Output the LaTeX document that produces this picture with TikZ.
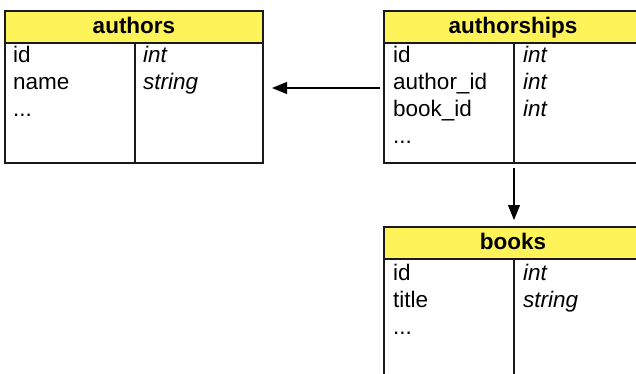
\documentclass[tikz,border=0pt]{standalone}
\usepackage{fontspec}
\setmainfont{Liberation Sans}
\usepackage{xcolor}
\definecolor{lineDark}{HTML}{1A1A1A}
\definecolor{headYellow}{HTML}{FFF35A}
\usetikzlibrary{positioning,calc,arrows.meta}
\tikzset{%
  tableHead/.style={%
    rectangle,
    draw=lineDark,
    line width=1.2pt,
    fill=headYellow,
    minimum width=258pt,
    minimum height=32pt,
    text height=16pt,
    text depth=3pt,
    outer sep=0pt,
    font=\fontsize{22.5}{27}\selectfont\bfseries
  },
  tableBody/.style={%
    rectangle,
    draw=lineDark,
    line width=1.2pt,
    fill=white,
    minimum width=258pt,
    minimum height=120pt,
    outer sep=0pt
  },
  fieldText/.style={%
    anchor=base west,
    inner sep=0pt,
    text width=120pt,
    align=left,
    font=\fontsize{22.5}{27}\selectfont
  },
  typeText/.style={%
    fieldText,
    font=\fontsize{22.5}{27}\selectfont\itshape
  },
  splitLine/.style={%
    draw=lineDark,
    line width=1.2pt
  },
  linkArrow/.style={%
    -{Triangle[length=15pt,width=12pt]},
    line width=1.2pt,
    color=black
  }
}
\begin{document}
\begin{tikzpicture}[x=1pt,y=-1pt]
  \useasboundingbox (0,0) rectangle (636,374);
  \clip (0,0) rectangle (636,374);

  % tables
  \node[tableHead] (authorsHead) at (134,27) {authors};
  \node[tableBody, below=0pt of authorsHead] (authorsBody) {};
  \node[tableHead] (shipsHead) at (513,27) {authorships};
  \node[tableBody, below=0pt of shipsHead] (shipsBody) {};
  \node[tableHead] (booksHead) at (513,243) {books};
  \node[tableBody, below=0pt of booksHead] (booksBody) {};

  % column splits
  \coordinate (authorsSplit) at ([xshift=130pt]authorsHead.south west);
  \coordinate (shipsSplit) at ([xshift=130pt]shipsHead.south west);
  \coordinate (booksSplit) at ([xshift=130pt]booksHead.south west);
  \draw[splitLine] (authorsSplit) -- (authorsSplit |- authorsBody.south);
  \draw[splitLine] (shipsSplit) -- (shipsSplit |- shipsBody.south);
  \draw[splitLine] (booksSplit) -- (booksSplit |- booksBody.south);

  % fields
  \node[fieldText] (authorsFields) at ([shift={(8pt,-20pt)}]authorsHead.south west) {id\\name\\...};
  \node[typeText] (authorsTypes) at ([shift={(8pt,-20pt)}]authorsSplit) {int\\string};
  \node[fieldText] (shipsFields) at ([shift={(9pt,-20pt)}]shipsHead.south west) {id\\author\_id\\book\_id\\...};
  \node[typeText] (shipsTypes) at ([shift={(9pt,-20pt)}]shipsSplit) {int\\int\\int};
  \node[fieldText] (booksFields) at ([shift={(9pt,-21pt)}]booksHead.south west) {id\\title\\...};
  \node[typeText] (booksTypes) at ([shift={(9pt,-21pt)}]booksSplit) {int\\string};

  % links
  \coordinate (booksTop) at ([xshift=130pt]booksHead.north west);
  \draw[linkArrow] ([shift={(-4pt,15pt)}]shipsBody.west) -- ([shift={(9pt,15pt)}]authorsBody.east);
  \draw[linkArrow] ([yshift=-5pt]shipsSplit |- shipsBody.south) -- ([yshift=7pt]booksTop);
\end{tikzpicture}
\end{document}
